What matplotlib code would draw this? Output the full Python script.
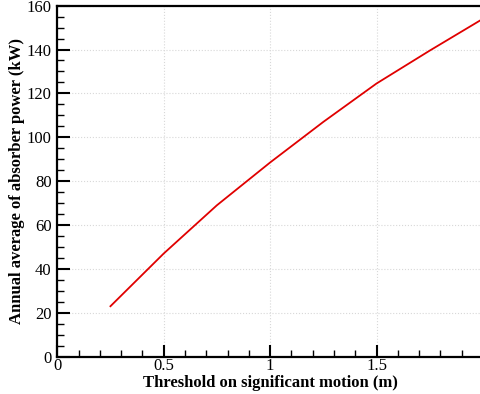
import matplotlib
matplotlib.use('Agg')
import matplotlib.pyplot as plt
from matplotlib.ticker import MultipleLocator

# ---- Data ----
threshold = [0.25, 0.5, 0.75, 1.0, 1.25, 1.5, 1.75, 2.0]
power_kw = [23.0, 47.0, 69.0, 88.5, 107.0, 124.5, 139.5, 154.0]

x_ticks = [0, 0.5, 1, 1.5, 2]
x_tick_labels = ['0', '0.5', '1', '1.5', '2']
y_ticks = [0, 20, 40, 60, 80, 100, 120, 140, 160]

plt.rcParams['font.family'] = ['Liberation Serif', 'DejaVu Serif']

fig = plt.figure(figsize=(4.81, 3.94), dpi=100)
ax = fig.add_axes([0.119, 0.0947, 0.885, 0.891])

ax.plot(threshold, power_kw, color='#e00000', linewidth=1.3, clip_on=False, zorder=3)

ax.set_xlim(0, 2)
ax.set_ylim(0, 160)
ax.set_xticks(x_ticks)
ax.set_xticklabels(x_tick_labels)
ax.set_yticks(y_ticks)
ax.xaxis.set_minor_locator(MultipleLocator(0.1))
ax.yaxis.set_minor_locator(MultipleLocator(5))

ax.tick_params(which='major', direction='in', length=9, width=1.5, labelsize=12,
               top=False, right=False)
ax.tick_params(axis='x', which='major', pad=1)
ax.tick_params(axis='y', which='major', pad=4)
ax.tick_params(which='minor', direction='in', length=5, width=1.0, top=False, right=False)

for side in ['left', 'bottom', 'top', 'right']:
    ax.spines[side].set_linewidth(1.6)

ax.grid(True, which='major', linestyle=':', linewidth=0.8, color='#d8d8d8')
ax.set_axisbelow(True)

ax.set_xlabel('Threshold on significant motion (m)', fontsize=12, fontweight='bold', labelpad=0.5)
ax.set_ylabel('Annual average of absorber power (kW)', fontsize=12, fontweight='bold', labelpad=1)

fig.savefig('out.png', dpi=100)
